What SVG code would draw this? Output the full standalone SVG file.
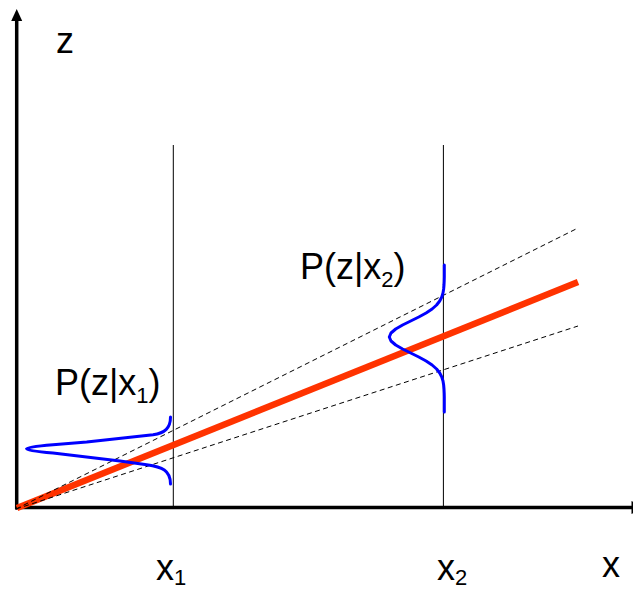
<svg xmlns="http://www.w3.org/2000/svg" width="633" height="589" viewBox="0 0 633 589">
<style>
.lbl{font-family:"Liberation Sans",Arial,sans-serif;font-size:36px;fill:#000}
.sub{font-size:22px}
.axis{stroke:#000;stroke-width:3.5;fill:none}
.vline{stroke:#000;stroke-width:1;fill:none}
.dash{stroke:#000;stroke-width:1;stroke-dasharray:5,3.5;fill:none}
.fit{stroke:#ff3300;stroke-width:6.5;fill:none}
.gauss{stroke:#0000ff;stroke-width:3;fill:none;stroke-linejoin:round;stroke-linecap:round}
</style>
<rect width="633" height="589" fill="#fff"/>
<g id="axes">
<line class="axis" x1="16.7" y1="509.5" x2="16.7" y2="19"/>
<polygon points="16.7,9 11.2,21 22.2,21" fill="#000"/>
<line class="axis" x1="15" y1="507.5" x2="632" y2="507.5" stroke-width="4"/>
<polygon points="631.5,501 631.5,514 645,507.5" fill="#000"/>
</g>
<g id="connectors">
<line class="vline" x1="173.3" y1="145" x2="173.3" y2="507"/>
<line class="vline" x1="443.4" y1="145" x2="443.4" y2="507"/>
<line class="fit" x1="17" y1="508" x2="578" y2="282"/>
<line class="dash" x1="16" y1="509" x2="578" y2="228"/>
<line class="dash" x1="16" y1="509" x2="578" y2="326"/>
</g>
<g id="gauss1">
<path class="gauss" d="M170.5,417 C170.5,428 165,433 153,434.7 L86.7,442 L53,444.7 Q0,448.7 53,453 L120,461 L146.7,464.7 C162,467 170.5,470 170.5,484"/>
</g>
<g id="gauss2">
<polyline class="gauss" points="444.3,265 444.3,277 444.2,281 444.0,285 443.65,289 443.0,293 441.8,297 439.7,301 436.6,305 432.1,309 426.1,313 418.8,317 410.7,321 402.6,325 395.7,329 391.0,333 389.3,337 391.0,341 395.7,345 402.6,349 410.7,353 418.8,357 426.1,361 432.1,365 436.6,369 439.7,373 441.8,377 443.0,381 443.65,385 444.0,389 444.2,393 444.3,397 444.3,412"/>
</g>
<g id="labels">
<text class="lbl" x="56" y="53">z</text>
<text class="lbl" x="55" y="395">P(z|x<tspan class="sub" dy="8">1</tspan><tspan dy="-8">)</tspan></text>
<text class="lbl" x="300" y="279">P(z|x<tspan class="sub" dy="8">2</tspan><tspan dy="-8">)</tspan></text>
<text class="lbl" x="156" y="580">x<tspan class="sub" dy="5">1</tspan></text>
<text class="lbl" x="437" y="580">x<tspan class="sub" dy="5">2</tspan></text>
<text class="lbl" x="602" y="577">x</text>
</g>
</svg>
